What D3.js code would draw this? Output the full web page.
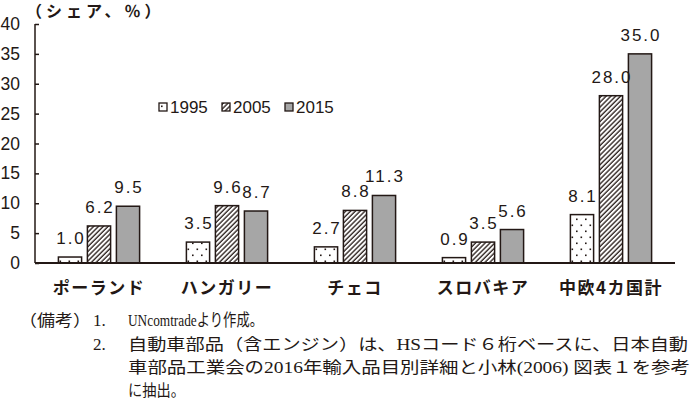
<!DOCTYPE html>
<html><head><meta charset="utf-8">
<script src="https://cdn.jsdelivr.net/npm/d3@7/dist/d3.min.js"></script>
<style>body{margin:0;background:#fff}</style>
</head><body>
<svg id="c" width="696" height="404"></svg>
<script>
const categories = ["ポーランド","ハンガリー","チェコ","スロバキア","中欧4カ国計"];
const seriesNames = ["1995","2005","2015"];
const v1995 = [1.0, 3.5, 2.7, 0.9, 8.1];
const v2005 = [6.2, 9.6, 8.8, 3.5, 28.0];
const v2015 = [9.5, 8.7, 11.3, 5.6, 35.0];
const yTicks = [0, 5, 10, 15, 20, 25, 30, 35, 40];
const yTitle = "（シェア、％）";
const noteHead = "（備考）";
const noteNums = ["1.", "2."];
const noteLines = [
  "UNcomtradeより作成。",
  "自動車部品（含エンジン）は、HSコード６桁ベースに、日本自動",
  "車部品工業会の2016年輸入品目別詳細と小林(2006) 図表１を参考",
  "に抽出。"
];

const ink = "#231815";
const svg = d3.select("#c");
const defs = svg.append("defs");

// dots pattern
const pd = defs.append("pattern").attr("id","dots").attr("patternUnits","userSpaceOnUse")
  .attr("width",9).attr("height",12);
pd.append("rect").attr("width",9).attr("height",12).attr("fill","#fff");
pd.append("rect").attr("x",2).attr("y",2.5).attr("width",1.6).attr("height",1.6).attr("fill",ink);
pd.append("rect").attr("x",6.5).attr("y",8.5).attr("width",1.6).attr("height",1.6).attr("fill",ink);

// hatch pattern
const ph = defs.append("pattern").attr("id","hatch").attr("patternUnits","userSpaceOnUse")
  .attr("width",3.4).attr("height",3.4).attr("patternTransform","rotate(45)");
ph.append("rect").attr("width",3.4).attr("height",3.4).attr("fill","#fff");
ph.append("line").attr("x1",1).attr("x2",1).attr("y1",0).attr("y2",3.4)
  .attr("stroke",ink).attr("stroke-width",1.3);

const fills = {"1995":"url(#dots)","2005":"url(#hatch)","2015":"#a6a6a6"};
const valuesBySeries = {"1995":v1995,"2005":v2005,"2015":v2015};

const x0 = d3.scaleBand().domain(categories).range([35,675]);
const x1 = d3.scaleBand().domain(seriesNames).range([20.5,107.5]).paddingInner(0.2).paddingOuter(0.1);
const y = d3.scaleLinear().domain([0,40]).range([263,24]);

const rows = categories.map((c,i)=>({cat:c, vals:seriesNames.map(s=>({s, v:valuesBySeries[s][i]}))}));

const g = svg.append("g").selectAll("g").data(rows).join("g")
  .attr("transform", d=>`translate(${x0(d.cat)},0)`);
g.selectAll("rect").data(d=>d.vals).join("rect")
  .attr("x", d=>x1(d.s)).attr("width", x1.bandwidth())
  .attr("y", d=>y(d.v)).attr("height", d=>y(0)-y(d.v))
  .attr("fill", d=>fills[d.s]).attr("stroke", ink).attr("stroke-width",1.5);
g.selectAll("text").data(d=>d.vals).join("text")
  .attr("x", d=>x1(d.s)+x1.bandwidth()/2+1).attr("y", d=>y(d.v)-13)
  .attr("text-anchor","middle")
  .attr("font-family","'Liberation Sans', Arial, sans-serif").attr("font-size",17)
  .attr("letter-spacing","2px").attr("fill",ink)
  .text(d=>d3.format(".1f")(d.v));

// y axis
const ya = svg.append("g").attr("transform","translate(35,0)")
  .call(d3.axisLeft(y).tickValues(yTicks).tickSizeInner(-4).tickSizeOuter(0).tickPadding(15).tickFormat(d3.format("d")));
ya.selectAll("path,line").attr("stroke",ink).attr("stroke-width",1.5);
ya.selectAll("text").attr("font-family","'Liberation Sans', Arial, sans-serif").attr("font-size",17.5).attr("fill",ink);
ya.select(".domain").attr("d", `M0,${y(40)}V${y(0)}`);

// x axis line
svg.append("line").attr("x1",35).attr("x2",675).attr("y1",y(0)).attr("y2",y(0))
  .attr("stroke",ink).attr("stroke-width",2);

// category labels
svg.append("g").selectAll("text").data(categories).join("text")
  .attr("x", d=>x0(d)+x0.bandwidth()/2).attr("y",294)
  .attr("text-anchor","middle").attr("font-family","'Noto Sans CJK JP', sans-serif")
  .attr("font-size",17).attr("font-weight","bold").attr("letter-spacing","1.5px").attr("fill",ink)
  .text(d=>d);

// title
svg.append("text").attr("x",26).attr("y",17).attr("font-family","'Noto Sans CJK JP', sans-serif")
  .attr("font-size",16).attr("font-weight","bold").attr("letter-spacing","4px").attr("fill",ink).text(yTitle);

// legend
const lg = svg.append("g").selectAll("g").data(seriesNames).join("g")
  .attr("transform",(d,i)=>`translate(${159+i*63},103)`);
lg.append("rect").attr("width",8).attr("height",8).attr("fill",d=>fills[d])
  .attr("stroke",ink).attr("stroke-width",1.3);
lg.append("text").attr("x",11).attr("y",9.5).attr("font-family","'Liberation Sans', Arial, sans-serif")
  .attr("font-size",17).attr("fill",ink).text(d=>d);

// notes
const nf = "'Liberation Serif', 'Noto Sans CJK JP', serif";
const notes = svg.append("g").attr("font-family",nf).attr("font-size",16).attr("fill",ink);
notes.append("text").attr("x",19).attr("y",326).attr("textLength",72).attr("lengthAdjust","spacingAndGlyphs").text(noteHead);
notes.selectAll(".num").data(noteNums).join("text").attr("class","num")
  .attr("x",93).attr("y",(d,i)=>326+i*24).attr("font-size",17).text(d=>d);
const lineY = [326,350,373,396];
const lineLen = [135,560,562,57];
notes.selectAll(".ln").data(noteLines).join("text").attr("class","ln")
  .attr("x",128).attr("y",(d,i)=>lineY[i]).attr("font-size",(d,i)=>i===0?17:16)
  .attr("textLength",(d,i)=>lineLen[i]).attr("lengthAdjust","spacingAndGlyphs").text(d=>d);
</script>
</body></html>
